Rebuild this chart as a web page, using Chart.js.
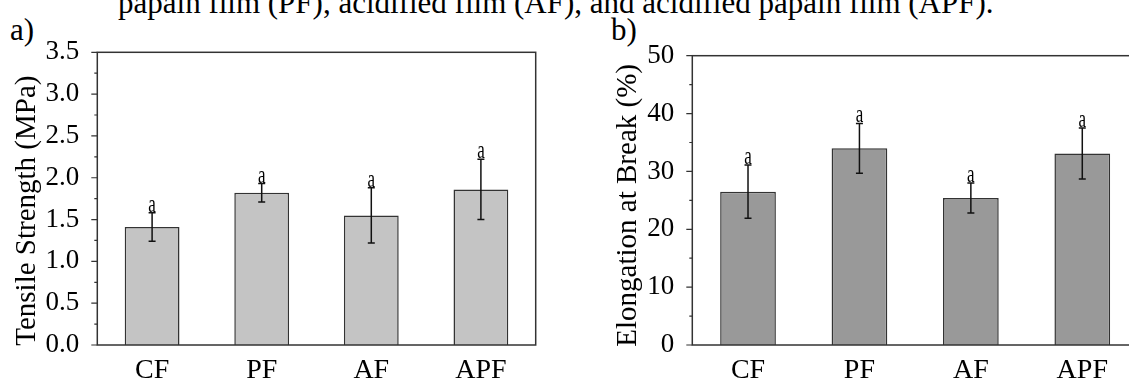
<!DOCTYPE html>
<html>
<head>
<meta charset="utf-8">
<script src="https://cdn.jsdelivr.net/npm/chart.js@4.4.1/dist/chart.umd.min.js"></script>
<style>
  html, body { margin: 0; padding: 0; background: #ffffff; overflow: hidden; width: 1129px; height: 379px; }
  #wrap { position: relative; width: 1129px; height: 379px; overflow: hidden; }
  canvas { position: absolute; top: 0; }
  .txt { position: absolute; font-family: "Liberation Serif", "Times New Roman", serif; color: #000; white-space: nowrap; line-height: 1; }
</style>
</head>
<body>
<div id="wrap">
  <div class="txt" style="font-size:31px; left:118px; top:-13px;">papain film (PF), acidified film (AF), and acidified papain film (APF).</div>
  <div class="txt" style="font-size:31px; left:10px; top:14px;">a)</div>
  <div class="txt" style="font-size:31px; left:611px; top:14px;">b)</div>
  <canvas id="panelA" width="560" height="379" style="left:0px;"></canvas>
  <canvas id="panelB" width="600" height="379" style="left:560px;"></canvas>
</div>
<script>
// Film samples
const categories = ['CF', 'PF', 'AF', 'APF'];

// Tensile strength (MPa): mean and standard deviation
const tensileMean = [1.41, 1.82, 1.55, 1.86];
const tensileSD   = [0.17, 0.11, 0.33, 0.36];
const tensileLetters = ['a', 'a', 'a', 'a'];

// Elongation at break (%): mean and standard deviation
const elongMean = [26.5, 34.0, 25.4, 33.1];
const elongSD   = [4.6, 4.3, 2.6, 4.4];
const elongLetters = ['a', 'a', 'a', 'a'];

// Axis ranges and tick steps
const tensileAxis = { min: 0, max: 3.5, minorStep: 0.25, majorStep: 0.5, decimals: 1 };
const elongAxis   = { min: 0, max: 50,  minorStep: 5,    majorStep: 10,  decimals: 0 };

const SERIF = '"Liberation Serif", "Times New Roman", serif';

function isMajor(v, step) {
  const r = v / step;
  return Math.abs(r - Math.round(r)) < 1e-6;
}

// Error bars, significance letters, frame, outward ticks and the y-axis title
const decorPlugin = {
  id: 'decor',
  afterDatasetsDraw(chart) {
    const cfg = chart.options.plugins.decor;
    const ctx = chart.ctx;
    const y = chart.scales.y;
    const meta = chart.getDatasetMeta(0);
    ctx.save();
    ctx.strokeStyle = '#111';
    ctx.lineWidth = 1.5;
    meta.data.forEach((bar, i) => {
      const m = cfg.means[i], s = cfg.sds[i];
      const yTop = y.getPixelForValue(m + s);
      const yBot = y.getPixelForValue(m - s);
      const x = bar.x;
      ctx.beginPath();
      ctx.moveTo(x, yTop); ctx.lineTo(x, yBot);
      ctx.moveTo(x - 3.5, yTop); ctx.lineTo(x + 3.5, yTop);
      ctx.moveTo(x - 3.5, yBot); ctx.lineTo(x + 3.5, yBot);
      ctx.stroke();
      // letter above the error bar
      ctx.save();
      ctx.translate(x, yTop - 1);
      ctx.scale(1, 1.45);
      ctx.fillStyle = '#000';
      ctx.font = '17px ' + SERIF;
      ctx.textAlign = 'center';
      ctx.textBaseline = 'alphabetic';
      ctx.fillText(cfg.letters[i], 0, 0);
      ctx.restore();
    });
    ctx.restore();
  },
  afterDraw(chart) {
    const cfg = chart.options.plugins.decor;
    const ctx = chart.ctx;
    const a = chart.chartArea;
    const y = chart.scales.y;
    ctx.save();
    // frame
    ctx.strokeStyle = '#333';
    ctx.lineWidth = 1.5;
    ctx.strokeRect(a.left, a.top, a.right - a.left, a.bottom - a.top);
    // outward ticks on the value axis
    ctx.beginPath();
    y.ticks.forEach((t, i) => {
      const py = y.getPixelForTick(i);
      const len = isMajor(t.value, cfg.majorStep) ? 6 : 3;
      ctx.moveTo(a.left - len, py);
      ctx.lineTo(a.left, py);
    });
    ctx.lineWidth = 1.2;
    ctx.stroke();
    // axis title
    ctx.translate(a.left - cfg.titleGap, (a.top + a.bottom) / 2 + cfg.titleShift);
    ctx.rotate(-Math.PI / 2);
    ctx.fillStyle = '#000';
    ctx.font = '29px ' + SERIF;
    ctx.textAlign = 'center';
    ctx.textBaseline = 'alphabetic';
    ctx.fillText(cfg.title, 0, 0);
    ctx.restore();
  }
};

function makePanel(id, means, sds, letters, axis, fill, title, layout) {
  return new Chart(document.getElementById(id), {
    type: 'bar',
    data: {
      labels: categories,
      datasets: [{
        data: means,
        backgroundColor: fill,
        borderColor: '#333',
        borderWidth: 1.5,
        categoryPercentage: 1.0,
        barPercentage: 0.5
      }]
    },
    options: {
      responsive: false,
      animation: false,
      events: [],
      layout: { padding: layout.padding },
      plugins: {
        legend: { display: false },
        tooltip: { enabled: false },
        decor: {
          means: means, sds: sds, letters: letters,
          majorStep: axis.majorStep, title: title,
          titleGap: layout.titleGap, titleShift: layout.titleShift
        }
      },
      scales: {
        x: {
          grid: { display: false },
          border: { display: false },
          ticks: { color: '#000', font: { family: SERIF, size: 28 }, padding: 1 },
          afterFit(scale) { scale.height = layout.xHeight; }
        },
        y: {
          min: axis.min, max: axis.max,
          grid: { display: false },
          border: { display: false },
          ticks: {
            stepSize: axis.minorStep,
            autoSkip: false,
            color: '#000',
            font: { family: SERIF, size: 27 },
            padding: 10,
            callback: (v) => isMajor(v, axis.majorStep) ? Number(v).toFixed(axis.decimals) : ''
          },
          afterFit(scale) { scale.width = layout.yWidth; }
        }
      }
    },
    plugins: [decorPlugin]
  });
}

makePanel('panelA', tensileMean, tensileSD, tensileLetters, tensileAxis, '#c4c4c4',
  'Tensile Strength (MPa)',
  { padding: { top: 52.3, right: 24.3, bottom: 0, left: 0 }, xHeight: 34, yWidth: 97.3, titleGap: 62, titleShift: 12 });

makePanel('panelB', elongMean, elongSD, elongLetters, elongAxis, '#999999',
  'Elongation at Break (%)',
  { padding: { top: 55.7, right: 22, bottom: 0, left: 0 }, xHeight: 34, yWidth: 132.3, titleGap: 56, titleShift: 5 });
</script>
</body>
</html>
